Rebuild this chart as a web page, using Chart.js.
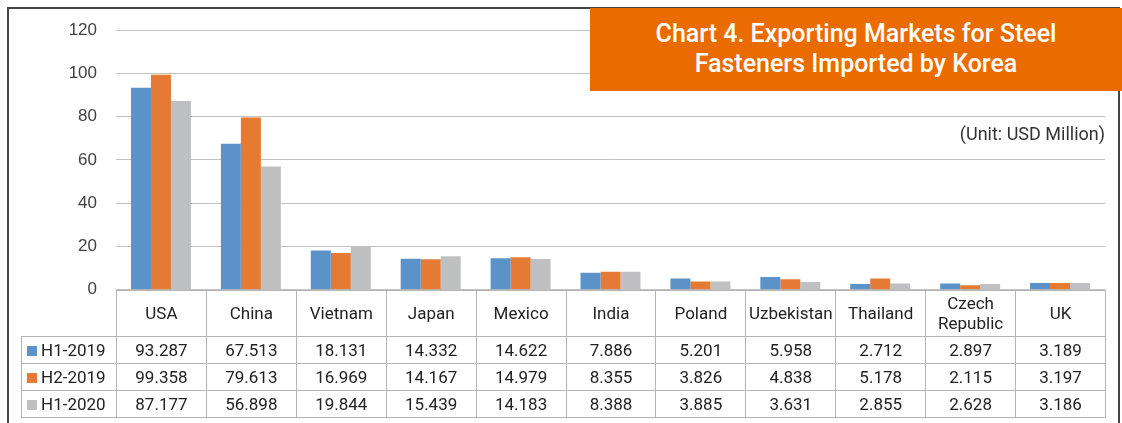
<!DOCTYPE html>
<html>
<head>
<meta charset="utf-8">
<script src="https://cdn.jsdelivr.net/npm/chart.js@4"></script>
<style>
  body { margin: 0; background: #fff; width: 1122px; height: 423px; overflow: hidden; position: relative; }
  #frame { position: absolute; left: 7px; top: 7px; width: 1109px; height: 430px; border: 2px solid #444; }
  #chartBox { position: absolute; left: 0; top: 0; width: 1122px; height: 319px; }
  #titleBox { position: absolute; left: 590px; top: 8px; width: 532px; height: 83px; background: #ea6c00; }
  #title { position: absolute; left: 590px; top: 19px; width: 532px; text-align: center; color: #fff;
           font-family: Roboto, sans-serif; font-weight: 500; font-size: 25px; line-height: 30px; }
  #unit { position: absolute; right: 17px; top: 122px; font-family: Roboto, sans-serif; font-size: 18px;
          color: #333; line-height: 24px; }
  #dataTable { position: absolute; top: 288px; border-collapse: collapse; table-layout: fixed;
               font-family: Roboto, sans-serif; font-size: 17px; color: #222; background: transparent; }
  #dataTable td { border: 1px solid #b4b4b4; padding: 0; text-align: center; height: 26px; line-height: 20px; background: #fff; }
  #dataTable tr.head td { height: 43px; padding-bottom: 2px; }
  #dataTable td.blank { border: none; background: transparent; }
  #dataTable td.name { text-align: left; padding-left: 5px; white-space: nowrap; }
  .key { display: inline-block; width: 10px; height: 10px; margin-right: 4px; vertical-align: 0px; }
</style>
</head>
<body>
<div id="frame"></div>
<div id="chartBox"><canvas id="marketChart"></canvas></div>
<div id="titleBox"></div>
<div id="title">Chart 4. Exporting Markets for Steel<br>Fasteners Imported by Korea</div>
<div id="unit">(Unit: USD Million)</div>
<table id="dataTable"></table>

<script>
const categories = ["USA", "China", "Vietnam", "Japan", "Mexico", "India", "Poland", "Uzbekistan", "Thailand", "Czech Republic", "UK"];
const headerLabels = ["USA", "China", "Vietnam", "Japan", "Mexico", "India", "Poland", "Uzbekistan", "Thailand", "Czech<br>Republic", "UK"];
const seriesNames = ["H1-2019", "H2-2019", "H1-2020"];
const h1_2019 = [93.287, 67.513, 18.131, 14.332, 14.622, 7.886, 5.201, 5.958, 2.712, 2.897, 3.189];
const h2_2019 = [99.358, 79.613, 16.969, 14.167, 14.979, 8.355, 3.826, 4.838, 5.178, 2.115, 3.197];
const h1_2020 = [87.177, 56.898, 19.844, 15.439, 14.183, 8.388, 3.885, 3.631, 2.855, 2.628, 3.186];
const yTicks = [0, 20, 40, 60, 80, 100, 120];
const colors = ["#5b93c9", "#e47a33", "#bfc0c2"];

const seriesValues = [h1_2019, h2_2019, h1_2020];

const chart = new Chart(document.getElementById("marketChart"), {
  type: "bar",
  data: {
    labels: categories,
    datasets: seriesNames.map((name, i) => ({
      label: name,
      data: seriesValues[i],
      backgroundColor: colors[i],
      borderWidth: 0,
      categoryPercentage: 0.667,
      barPercentage: 1.0
    }))
  },
  options: {
    responsive: true,
    maintainAspectRatio: false,
    animation: false,
    layout: { padding: { left: 0, right: 17, top: 30, bottom: 12 } },
    plugins: {
      legend: { display: false },
      tooltip: { enabled: false }
    },
    scales: {
      x: { display: false },
      y: {
        min: 0,
        max: 120,
        afterFit: (scale) => { scale.width = 116; },
        afterBuildTicks: (scale) => { scale.ticks = yTicks.map(v => ({ value: v })); },
        ticks: {
          color: "#404040",
          padding: 19,
          font: { family: "'Liberation Sans', Arial, sans-serif", size: 17 }
        },
        grid: { color: "#c0c0c0", lineWidth: 1, drawTicks: false },
        border: { display: false }
      }
    }
  }
});

// data table under the plot, columns follow the chart area
const area = chart.chartArea;
const colWidth = (area.right - area.left) / categories.length;
const labelWidth = 95;
const table = document.getElementById("dataTable");
table.style.left = (area.left - labelWidth) + "px";
table.style.top = Math.round(area.bottom) + "px";

let html = "<colgroup><col style='width:" + labelWidth + "px'>";
categories.forEach(() => { html += "<col style='width:" + colWidth + "px'>"; });
html += "</colgroup><tr class='head'><td class='blank'></td>";
headerLabels.forEach((c) => { html += "<td>" + c + "</td>"; });
html += "</tr>";
seriesNames.forEach((name, i) => {
  html += "<tr><td class='name'><span class='key' style='background:" + colors[i] + "'></span>" + name + "</td>";
  seriesValues[i].forEach((v) => { html += "<td>" + v.toFixed(3) + "</td>"; });
  html += "</tr>";
});
table.innerHTML = html;
table.style.width = (labelWidth + colWidth * categories.length) + "px";
</script>
</body>
</html>
